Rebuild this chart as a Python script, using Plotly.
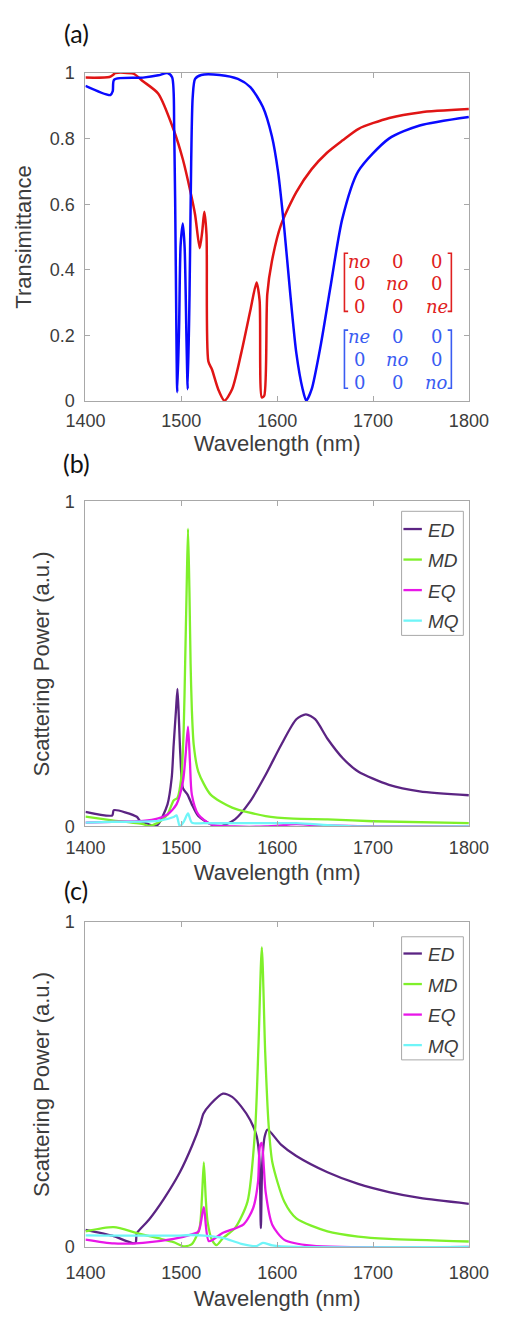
import plotly.graph_objects as go

W, H = 511, 1323

# ---------------- Panel (a): transmittance ----------------
a_red_wl = [1400, 1425, 1429, 1431, 1450, 1460, 1476, 1492, 1501.6, 1509.6, 1514.4, 1519.2,
            1521.8, 1524, 1526.3, 1528.2, 1532, 1538.5, 1545, 1553, 1562.5, 1572, 1578.5,
            1581.7, 1584, 1586.5, 1589.7, 1594.5, 1604, 1620, 1636, 1652, 1668, 1685, 1717,
            1749, 1800]
a_red_T = [0.986, 0.988, 0.995, 1.0, 0.998, 0.975, 0.937, 0.827, 0.737, 0.637, 0.568, 0.466,
           0.516, 0.577, 0.507, 0.121, 0.096, 0.036, 0.001, 0.036, 0.146, 0.276, 0.361,
           0.306, 0.011, 0.016, 0.326, 0.426, 0.537, 0.637, 0.707, 0.757, 0.794, 0.83, 0.863,
           0.88, 0.89]

a_blue_wl = [1400, 1426, 1428.5, 1430, 1460, 1476, 1485.6, 1490.4, 1492.6, 1494.2, 1495.8,
             1497.7, 1499.3, 1501.6, 1503.5, 1505.5, 1506.7, 1508.6, 1510.3, 1511.9, 1514.4,
             1520.8, 1540, 1559, 1572, 1585, 1594.5, 1601, 1607.4, 1613.7, 1620, 1626.6,
             1630.4, 1636, 1645.8, 1655.5, 1668, 1684.5, 1716.6, 1748.7, 1800]
a_blue_T = [0.961, 0.933, 0.945, 0.98, 0.986, 0.993, 1.0, 0.987, 0.827, 0.426, 0.027,
            0.226, 0.476, 0.541, 0.466, 0.176, 0.036, 0.326, 0.727, 0.927, 0.982,
            0.994, 0.994, 0.982, 0.957, 0.897, 0.807, 0.697, 0.526, 0.326, 0.146, 0.036,
            0.001, 0.036, 0.176, 0.346, 0.556, 0.70, 0.80, 0.84, 0.866]

# ---------------- Panel (b): multipoles ----------------
b_ED_wl = [1400, 1428, 1429.5, 1453.6, 1457, 1466, 1471, 1476, 1485.6, 1490, 1492, 1494.5, 1496,
           1497.5, 1499, 1501.7, 1506.5, 1511, 1517.7, 1530.6, 1540, 1556, 1572, 1588, 1604,
           1620, 1630, 1639.6, 1652.5, 1668.5, 1684.5, 1716.6, 1748.7, 1800]
b_ED_P = [0.045, 0.034, 0.05, 0.03, 0.017, 0.007, 0.0, 0.007, 0.068, 0.15, 0.25, 0.36, 0.423,
          0.33, 0.22, 0.118, 0.098, 0.068, 0.032, 0.007, 0.0, 0.022, 0.078, 0.159, 0.25,
          0.33, 0.345, 0.33, 0.27, 0.21, 0.169, 0.128, 0.108, 0.096]

b_MD_wl = [1400, 1428, 1460, 1466, 1476, 1485.6, 1492, 1496, 1500, 1502.5, 1504, 1505.5, 1507,
           1508.5, 1509.7, 1511, 1513, 1517.7, 1530.6, 1553, 1588, 1617, 1652.5, 1700, 1800]
b_MD_P = [0.03, 0.019, 0.007, 0.002, 0.012, 0.037, 0.08, 0.088, 0.15, 0.30, 0.50, 0.72, 0.916,
          0.72, 0.50, 0.36, 0.25, 0.169, 0.098, 0.058, 0.032, 0.024, 0.022, 0.016, 0.01]

b_EQ_wl = [1400, 1428, 1460, 1476, 1485.6, 1495, 1501.7, 1504.5, 1507, 1509, 1511, 1517.7,
           1530.6, 1556, 1588, 1620, 1636, 1684.5, 1800]
b_EQ_P = [0.012, 0.014, 0.017, 0.025, 0.037, 0.068, 0.138, 0.22, 0.307, 0.20, 0.098, 0.037,
          0.007, 0.0, 0.0, 0.007, 0.005, 0.001, 0.0]

b_MQ_wl = [1400, 1428, 1476, 1492, 1495, 1498.5, 1503, 1507, 1511, 1524, 1620, 1652.5, 1684.5, 1800]
b_MQ_P = [0.012, 0.014, 0.017, 0.029, 0.034, 0.0, 0.017, 0.04, 0.012, 0.01, 0.01, 0.004, 0.0, 0.0]

# ---------------- Panel (c): multipoles ----------------
c_ED_wl = [1400, 1428, 1452, 1453.6, 1466, 1482, 1498.5, 1511, 1520, 1523, 1530.6, 1543.4,
           1553, 1562.6, 1572, 1578.7, 1581.5, 1583, 1584.5, 1587, 1590, 1604, 1620, 1652.5,
           1684.5, 1716.6, 1748.7, 1800]
c_ED_P = [0.053, 0.035, 0.012, 0.042, 0.083, 0.149, 0.23, 0.31, 0.38, 0.41, 0.44, 0.472,
          0.462, 0.432, 0.39, 0.34, 0.27, 0.058, 0.26, 0.34, 0.361, 0.315, 0.28, 0.23,
          0.194, 0.169, 0.151, 0.133]

c_MD_wl = [1400, 1429.5, 1453.5, 1476, 1492, 1503, 1511, 1519, 1521.5, 1523.5, 1525.5, 1527.4,
           1532, 1536.8, 1543.4, 1556, 1569, 1577, 1580.5, 1584, 1587.5, 1591, 1595, 1607.5,
           1620, 1652.5, 1684.5, 1716.6, 1800]
c_MD_P = [0.048, 0.061, 0.043, 0.027, 0.015, 0.002, 0.009, 0.058, 0.15, 0.26, 0.15, 0.078,
          0.022, 0.006, 0.027, 0.058, 0.139, 0.36, 0.62, 0.922, 0.60, 0.38, 0.26, 0.139,
          0.088, 0.048, 0.032, 0.025, 0.017]

c_EQ_wl = [1400, 1429.8, 1460, 1492, 1511, 1518, 1523.5, 1528.8, 1543, 1565, 1575, 1580,
           1582, 1584, 1586, 1588, 1595, 1607.5, 1636, 1800]
c_EQ_P = [0.023, 0.011, 0.013, 0.025, 0.039, 0.048, 0.123, 0.018, 0.043, 0.07, 0.12, 0.2,
          0.31, 0.32, 0.25, 0.169, 0.068, 0.022, 0.004, 0.0]

c_MQ_wl = [1400, 1492, 1511, 1524, 1543.4, 1562.6, 1578.5, 1585, 1595, 1620, 1800]
c_MQ_P = [0.036, 0.035, 0.037, 0.035, 0.028, 0.01, 0.003, 0.013, 0.005, 0.0, 0.0]

x_ticks = [1400, 1500, 1600, 1700, 1800]
a_y_ticks = [0, 0.2, 0.4, 0.6, 0.8, 1]
a_y_ticklabels = ["0", "0.2", "0.4", "0.6", "0.8", "1"]
bc_y_ticks = [0, 1]
mode_names = ["ED", "MD", "EQ", "MQ"]
mode_colors = ["#5b2483", "#7ff02a", "#e817e8", "#6ff5f8"]
red_col = "#e01515"
blue_col = "#0a0aff"

# red matrix (no, no, ne) and blue matrix (ne, no, no)
red_matrix = [["no", "0", "0"], ["0", "no", "0"], ["0", "0", "ne"]]
blue_matrix = [["ne", "0", "0"], ["0", "no", "0"], ["0", "0", "no"]]


def px(x):
    return x / W


def py(y):
    return 1 - y / H


fig = go.Figure()
SM = 0.7

fig.add_trace(go.Scatter(x=a_red_wl, y=a_red_T, mode="lines",
                         line=dict(color=red_col, width=2.5, shape="spline", smoothing=SM),
                         xaxis="x", yaxis="y", showlegend=False, name="(no, no, ne)"))
fig.add_trace(go.Scatter(x=a_blue_wl, y=a_blue_T, mode="lines",
                         line=dict(color=blue_col, width=2.5, shape="spline", smoothing=SM),
                         xaxis="x", yaxis="y", showlegend=False, name="(ne, no, no)"))

b_sets = [(b_ED_wl, b_ED_P), (b_MD_wl, b_MD_P), (b_EQ_wl, b_EQ_P), (b_MQ_wl, b_MQ_P)]
c_sets = [(c_ED_wl, c_ED_P), (c_MD_wl, c_MD_P), (c_EQ_wl, c_EQ_P), (c_MQ_wl, c_MQ_P)]
for (wl, p), nm, col in zip(b_sets, mode_names, mode_colors):
    fig.add_trace(go.Scatter(x=wl, y=p, mode="lines",
                             line=dict(color=col, width=2.3, shape="spline", smoothing=SM),
                             xaxis="x2", yaxis="y2", showlegend=False, name=nm))
for (wl, p), nm, col in zip(c_sets, mode_names, mode_colors):
    fig.add_trace(go.Scatter(x=wl, y=p, mode="lines",
                             line=dict(color=col, width=2.3, shape="spline", smoothing=SM),
                             xaxis="x3", yaxis="y3", showlegend=False, name=nm))

FONT = "Arial"
tick_font = dict(family=FONT, size=18, color="#3c3c3c")
title_font = dict(family=FONT, size=22, color="#3c3c3c")
axis_common = dict(showline=True, linecolor="#a8a8a8", linewidth=1, mirror="ticks",
                   ticks="inside", ticklen=5, tickcolor="#a8a8a8", showgrid=False, zeroline=False,
                   tickfont=tick_font)

x_dom = [px(71), px(487)]
fig.update_layout(
    width=W, height=H, margin=dict(l=0, r=0, t=0, b=0),
    paper_bgcolor="white", plot_bgcolor="white",
    xaxis=dict(domain=x_dom, range=[1400, 1800], tickvals=x_ticks, anchor="y", ticklabelstandoff=3,
               title=dict(text="Wavelength (nm)", font=title_font, standoff=6), **axis_common),
    yaxis=dict(domain=[py(397), py(64)], range=[0, 1], tickvals=a_y_ticks, ticktext=a_y_ticklabels,
               anchor="x", ticklabelstandoff=6,
               title=dict(text="Transimittance", font=title_font, standoff=12), **axis_common),
    xaxis2=dict(domain=x_dom, range=[1400, 1800], tickvals=x_ticks, anchor="y2", ticklabelstandoff=5,
                title=dict(text="Wavelength (nm)", font=title_font, standoff=7), **axis_common),
    yaxis2=dict(domain=[py(829), py(499)], range=[0, 1], tickvals=bc_y_ticks, anchor="x2",
                ticklabelstandoff=6,
                title=dict(text="Scattering Power (a.u.)", font=title_font, standoff=9), **axis_common),
    xaxis3=dict(domain=x_dom, range=[1400, 1800], tickvals=x_ticks, anchor="y3", ticklabelstandoff=9,
                title=dict(text="Wavelength (nm)", font=title_font, standoff=8), **axis_common),
    yaxis3=dict(domain=[py(1256), py(926)], range=[0, 1], tickvals=bc_y_ticks, anchor="x3",
                ticklabelstandoff=6,
                title=dict(text="Scattering Power (a.u.)", font=title_font, standoff=9), **axis_common),
)

annotations = []
shapes = []

# panel labels
label_font = dict(family="Lato", size=25, color="#111111")
for lab, y in [("(a)", 23), ("(b)", 460), ("(c)", 893)]:
    annotations.append(dict(text=lab, x=px(61), y=py(y), xref="paper", yref="paper",
                            showarrow=False, font=label_font, xanchor="center", yanchor="middle"))

# matrices
mat_cols_x = [368, 410, 452]


def add_matrix(mat, rows_y, color, top, bottom):
    for r, row in enumerate(mat):
        for c, val in enumerate(row):
            txt = "<i>%s</i>" % val if val != "0" else val
            annotations.append(dict(text=txt, x=px(mat_cols_x[c]), y=py(rows_y[r]), xref="paper",
                                    yref="paper", showarrow=False, xanchor="center", yanchor="middle",
                                    font=dict(family="DejaVu Serif", size=18, color=color)))
    lx, rx = 352, 468
    shapes.append(dict(type="path", xref="paper", yref="paper",
                       path="M %f,%f L %f,%f L %f,%f L %f,%f" % (px(lx + 4), py(top), px(lx), py(top),
                                                              px(lx), py(bottom), px(lx + 4), py(bottom)),
                       line=dict(color=color, width=1.6)))
    shapes.append(dict(type="path", xref="paper", yref="paper",
                       path="M %f,%f L %f,%f L %f,%f L %f,%f" % (px(rx - 4), py(top), px(rx), py(top),
                                                              px(rx), py(bottom), px(rx - 4), py(bottom)),
                       line=dict(color=color, width=1.6)))


add_matrix(red_matrix, [255, 278, 301], "#e02020", 247, 306)
add_matrix(blue_matrix, [332, 355, 378], "#3a5cf2", 325, 384)

# legends (drawn boxes for panels b and c)
for box_top, box_bot, first_y in [(509, 635, 527), (941, 1066, 958)]:
    shapes.append(dict(type="rect", xref="paper", yref="paper", x0=px(414), x1=px(481),
                       y0=py(box_bot), y1=py(box_top), line=dict(color="#a8a8a8", width=1),
                       fillcolor="white", layer="above"))
    for i, (nm, col) in enumerate(zip(mode_names, mode_colors)):
        yy = first_y + i * 31
        shapes.append(dict(type="line", xref="paper", yref="paper", x0=px(416), x1=px(436),
                           y0=py(yy), y1=py(yy), line=dict(color=col, width=2.3), layer="above"))
        annotations.append(dict(text="<i>%s</i>" % nm, x=px(441), y=py(yy + 1), xref="paper",
                                yref="paper", showarrow=False, xanchor="left", yanchor="middle",
                                font=dict(family=FONT, size=19, color="#3c3c3c")))

fig.update_layout(annotations=annotations, shapes=shapes)
fig.write_html("out.html")
